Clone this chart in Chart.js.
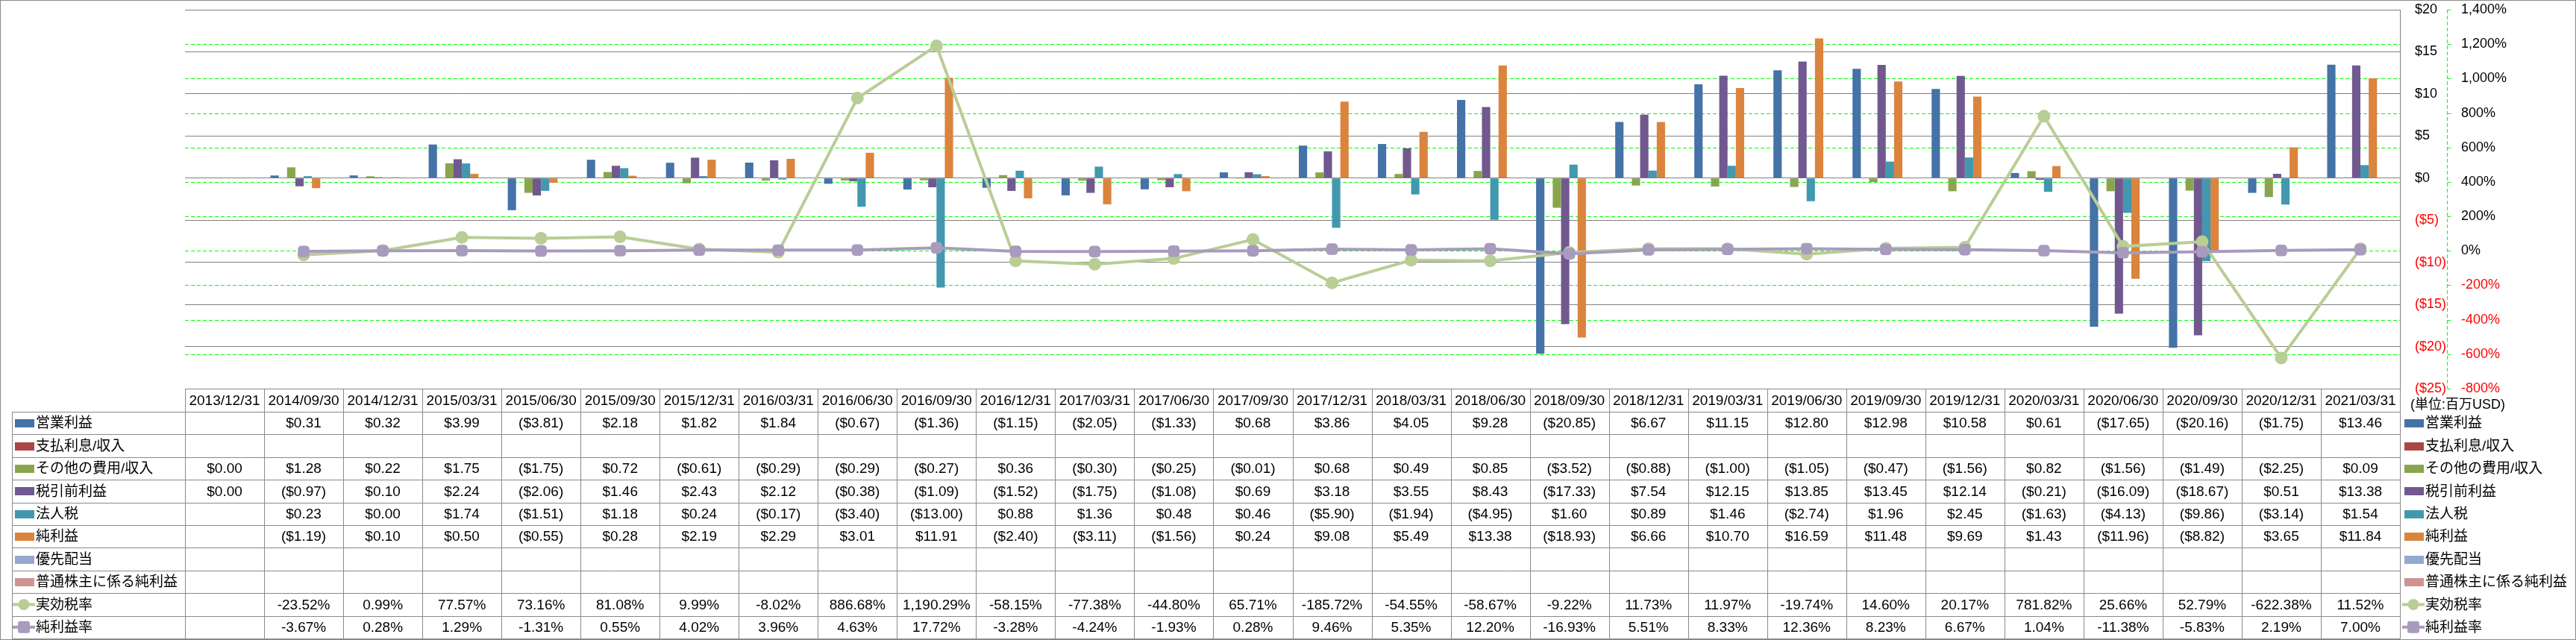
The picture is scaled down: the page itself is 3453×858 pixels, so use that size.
<!DOCTYPE html>
<html><head><meta charset="utf-8">
<script src="https://cdn.jsdelivr.net/npm/chart.js@4.4.0/dist/chart.umd.min.js"></script>
<style>html,body{margin:0;padding:0;background:#fff;overflow:hidden}</style>
</head><body>
<canvas id="c" width="3453" height="858" style="display:block;width:3453px;height:858px"></canvas>
<script>
const categories = ['2013/12/31','2014/09/30','2014/12/31','2015/03/31','2015/06/30','2015/09/30','2015/12/31','2016/03/31','2016/06/30','2016/09/30','2016/12/31','2017/03/31','2017/06/30','2017/09/30','2017/12/31','2018/03/31','2018/06/30','2018/09/30','2018/12/31','2019/03/31','2019/06/30','2019/09/30','2019/12/31','2020/03/31','2020/06/30','2020/09/30','2020/12/31','2021/03/31'];
const opIncome    = [null,0.31,0.32,3.99,-3.81,2.18,1.82,1.84,-0.67,-1.36,-1.15,-2.05,-1.33,0.68,3.86,4.05,9.28,-20.85,6.67,11.15,12.80,12.98,10.58,0.61,-17.65,-20.16,-1.75,13.46];
const interest    = [null,null,null,null,null,null,null,null,null,null,null,null,null,null,null,null,null,null,null,null,null,null,null,null,null,null,null,null];
const otherExp    = [0.00,1.28,0.22,1.75,-1.75,0.72,-0.61,-0.29,-0.29,-0.27,0.36,-0.30,-0.25,-0.01,0.68,0.49,0.85,-3.52,-0.88,-1.00,-1.05,-0.47,-1.56,0.82,-1.56,-1.49,-2.25,0.09];
const pretax      = [0.00,-0.97,0.10,2.24,-2.06,1.46,2.43,2.12,-0.38,-1.09,-1.52,-1.75,-1.08,0.69,3.18,3.55,8.43,-17.33,7.54,12.15,13.85,13.45,12.14,-0.21,-16.09,-18.67,0.51,13.38];
const incomeTax   = [null,0.23,0.00,1.74,-1.51,1.18,0.24,-0.17,-3.40,-13.00,0.88,1.36,0.48,0.46,-5.90,-1.94,-4.95,1.60,0.89,1.46,-2.74,1.96,2.45,-1.63,-4.13,-9.86,-3.14,1.54];
const netIncome   = [null,-1.19,0.10,0.50,-0.55,0.28,2.19,2.29,3.01,11.91,-2.40,-3.11,-1.56,0.24,9.08,5.49,13.38,-18.93,6.66,10.70,16.59,11.48,9.69,1.43,-11.96,-8.82,3.65,11.84];
const prefDiv     = [null,null,null,null,null,null,null,null,null,null,null,null,null,null,null,null,null,null,null,null,null,null,null,null,null,null,null,null];
const netToCommon = [null,null,null,null,null,null,null,null,null,null,null,null,null,null,null,null,null,null,null,null,null,null,null,null,null,null,null,null];
const taxRate     = [null,-23.52,0.99,77.57,73.16,81.08,9.99,-8.02,886.68,1190.29,-58.15,-77.38,-44.80,65.71,-185.72,-54.55,-58.67,-9.22,11.73,11.97,-19.74,14.60,20.17,781.82,25.66,52.79,-622.38,11.52];
const netMargin   = [null,-3.67,0.28,1.29,-1.31,0.55,4.02,3.96,4.63,17.72,-3.28,-4.24,-1.93,0.28,9.46,5.35,12.20,-16.93,5.51,8.33,12.36,8.23,6.67,1.04,-11.38,-5.83,2.19,7.00];
const seriesNames = ['営業利益','支払利息/収入','その他の費用/収入','税引前利益','法人税','純利益','優先配当','普通株主に係る純利益','実効税率','純利益率'];
const unitLabel = '(単位:百万USD)';

const FONT = "'Liberation Sans','Noto Sans CJK JP',sans-serif";
const moneyFmt = v => v == null ? '' : (v < 0 ? '($' + Math.abs(v).toFixed(2) + ')' : '$' + v.toFixed(2));
const pctFmt = v => v == null ? '' : v.toLocaleString('en-US',{minimumFractionDigits:2,maximumFractionDigits:2}) + '%';

const barColors = ['#4572A7','#AA4643','#89A54E','#71588F','#4198AF','#DB843D','#93A9CF','#D19392'];
const barData = [opIncome, interest, otherExp, pretax, incomeTax, netIncome, prefDiv, netToCommon];

const datasets = barData.map((d,i) => ({
  type:'bar', label:seriesNames[i], data:d, backgroundColor:barColors[i], borderWidth:0,
  yAxisID:'y', order:1, categoryPercentage:0.84, barPercentage:1.0
}));
datasets.push({type:'line', label:seriesNames[8], data:taxRate, yAxisID:'y1', order:-1, clip:false, fill:false,
  borderColor:'#B9CD96', backgroundColor:'#B9CD96', borderWidth:4, pointRadius:8.5, pointStyle:'circle',
  pointBorderWidth:0, tension:0});
datasets.push({type:'line', label:seriesNames[9], data:netMargin, yAxisID:'y1', order:-2, clip:false, fill:false,
  borderColor:'#A99BBD', backgroundColor:'#A99BBD', borderWidth:4, pointRadius:9, pointStyle:'rectRounded',
  pointBorderWidth:0, tension:0});

const rowDefs = seriesNames.map((n,i) => ({
  name:n,
  color: i < 8 ? barColors[i] : datasets[i].borderColor,
  kind: i < 8 ? 'bar' : (i === 8 ? 'circle' : 'rect'),
  data: i < 8 ? barData[i] : (i === 8 ? taxRate : netMargin),
  fmt: i < 8 ? moneyFmt : pctFmt
}));

function drawSwatch(ctx, def, x, yc){
  if (def.kind === 'bar'){
    ctx.fillStyle = def.color;
    ctx.fillRect(x, Math.round(yc - 5), 26, 11);
  } else {
    ctx.strokeStyle = def.color; ctx.lineWidth = 4;
    ctx.beginPath(); ctx.moveTo(x - 3, yc); ctx.lineTo(x + 27, yc); ctx.stroke();
    ctx.fillStyle = def.color;
    if (def.kind === 'circle'){
      ctx.beginPath(); ctx.arc(x + 12, yc, 7.5, 0, Math.PI*2); ctx.fill();
    } else {
      const s = 8, r = 3;
      ctx.beginPath();
      ctx.roundRect ? ctx.roundRect(x + 12 - s, yc - s, 2*s, 2*s, r) : ctx.rect(x + 12 - s, yc - s, 2*s, 2*s);
      ctx.fill();
    }
  }
}

const px = v => Math.round(v) + 0.5;

// green dashed gridlines of the percentage axis, placed by its own ticks
const pctGridPlugin = {
  id:'pctGrid',
  beforeDatasetsDraw(chart){
    const ctx = chart.ctx, area = chart.chartArea, y1 = chart.scales.y1;
    ctx.save();
    ctx.strokeStyle = '#00ff00'; ctx.lineWidth = 1; ctx.setLineDash([5,3]);
    ctx.beginPath();
    y1.ticks.forEach(t => {
      const yy = px(y1.getPixelForValue(t.value));
      if (yy < area.top + 1 || yy > area.bottom - 1) return;
      ctx.moveTo(area.left, yy); ctx.lineTo(area.right, yy);
    });
    ctx.stroke();
    ctx.restore();
  }
};

const tablePlugin = {
  id:'dataTable',
  afterDraw(chart){
    const ctx = chart.ctx, xs = chart.scales.x, area = chart.chartArea;
    const n = categories.length;
    const colW = (area.right - area.left) / n;
    const labelLeft = 16;
    const headTop = area.bottom, headBot = headTop + 31, rowH = 30.4;
    const tableBot = headBot + rowH * rowDefs.length;
    ctx.save();
    ctx.strokeStyle = '#8a8a8a'; ctx.lineWidth = 1;
    ctx.beginPath();
    ctx.moveTo(area.left, px(headTop)); ctx.lineTo(area.right, px(headTop));
    for (let r = 0; r <= rowDefs.length; r++){
      const y = px(headBot + r*rowH);
      ctx.moveTo(labelLeft, y); ctx.lineTo(area.right, y);
    }
    ctx.moveTo(px(labelLeft), px(headBot)); ctx.lineTo(px(labelLeft), px(tableBot));
    for (let i = 0; i <= n; i++){
      const x = px(xs.getPixelForValue(Math.min(i, n-1)) + (i === n ? colW/2 : -colW/2));
      ctx.moveTo(x, px(headTop)); ctx.lineTo(x, px(tableBot));
    }
    ctx.stroke();

    ctx.fillStyle = '#000';
    ctx.textBaseline = 'middle'; ctx.textAlign = 'center';
    ctx.font = '19px ' + FONT;
    for (let i = 0; i < n; i++){
      const cx = xs.getPixelForValue(i);
      ctx.fillText(categories[i], cx, (headTop + headBot)/2 + 1);
      rowDefs.forEach((def, r) => {
        const t = def.fmt(def.data[i]);
        if (t) ctx.fillText(t, cx, headBot + r*rowH + rowH/2 + 1);
      });
    }
    ctx.textAlign = 'left';
    rowDefs.forEach((def, r) => {
      const yc = headBot + r*rowH + rowH/2;
      drawSwatch(ctx, def, 20, yc);
      drawSwatch(ctx, def, area.right + 6, yc);
      ctx.fillStyle = '#000';
      ctx.font = '19px ' + FONT;
      ctx.fillText(def.name, 48, yc + 1);
      ctx.fillText(def.name, area.right + 34, yc + 1);
    });
    ctx.font = '18px ' + FONT;
    ctx.fillText(unitLabel, area.right + 14, headTop + 22);
    const y1 = chart.scales.y1;
    const ax = px(y1.left);
    ctx.strokeStyle = '#00ff00'; ctx.lineWidth = 1;
    ctx.setLineDash([5,3]);
    ctx.beginPath(); ctx.moveTo(ax, area.top); ctx.lineTo(ax, area.bottom); ctx.stroke();
    ctx.setLineDash([]);
    ctx.beginPath();
    y1.ticks.forEach(t => {
      const yy = px(y1.getPixelForValue(t.value));
      ctx.moveTo(ax, yy); ctx.lineTo(ax + 5, yy);
    });
    ctx.stroke();
    ctx.beginPath();
    ctx.strokeStyle = '#8a8a8a';
    ctx.strokeRect(0.5, 0.5, chart.width - 1, chart.height - 1);
    ctx.restore();
  }
};

Chart.defaults.font.family = FONT;
new Chart(document.getElementById('c').getContext('2d'), {
  type:'bar',
  data:{labels:categories, datasets},
  options:{
    responsive:false, animation:false, devicePixelRatio:1,
    layout:{padding:{left:248, top:13, right:0, bottom:337}},
    plugins:{legend:{display:false}, tooltip:{enabled:false}},
    scales:{
      x:{display:false, offset:true, grid:{display:false}},
      y:{position:'right', weight:0, min:-25, max:20,
         ticks:{stepSize:5, padding:1, font:{size:18},
           color:c => c.tick.value < 0 ? '#FF0000' : '#000000',
           callback:v => v < 0 ? '($' + Math.abs(v) + ')' : '$' + v},
         grid:{color:'#808080', lineWidth:1, drawTicks:true, tickLength:19, tickColor:'rgba(0,0,0,0)'},
         border:{display:true, color:'#808080'},
         afterFit(s){ s.width = 63; }},
      y1:{position:'right', weight:1, min:-800, max:1400,
         ticks:{stepSize:200, padding:0, font:{size:18},
           color:c => c.tick.value < 0 ? '#FF0000' : '#000000',
           callback:v => v.toLocaleString('en-US') + '%'},
         grid:{display:true, drawOnChartArea:false, drawTicks:true, tickLength:19, tickColor:'rgba(0,0,0,0)', color:'rgba(0,0,0,0)'},
         border:{display:false},
         afterFit(s){ s.width = 173; }}
    }
  },
  plugins:[pctGridPlugin, tablePlugin]
});
</script>
</body></html>
